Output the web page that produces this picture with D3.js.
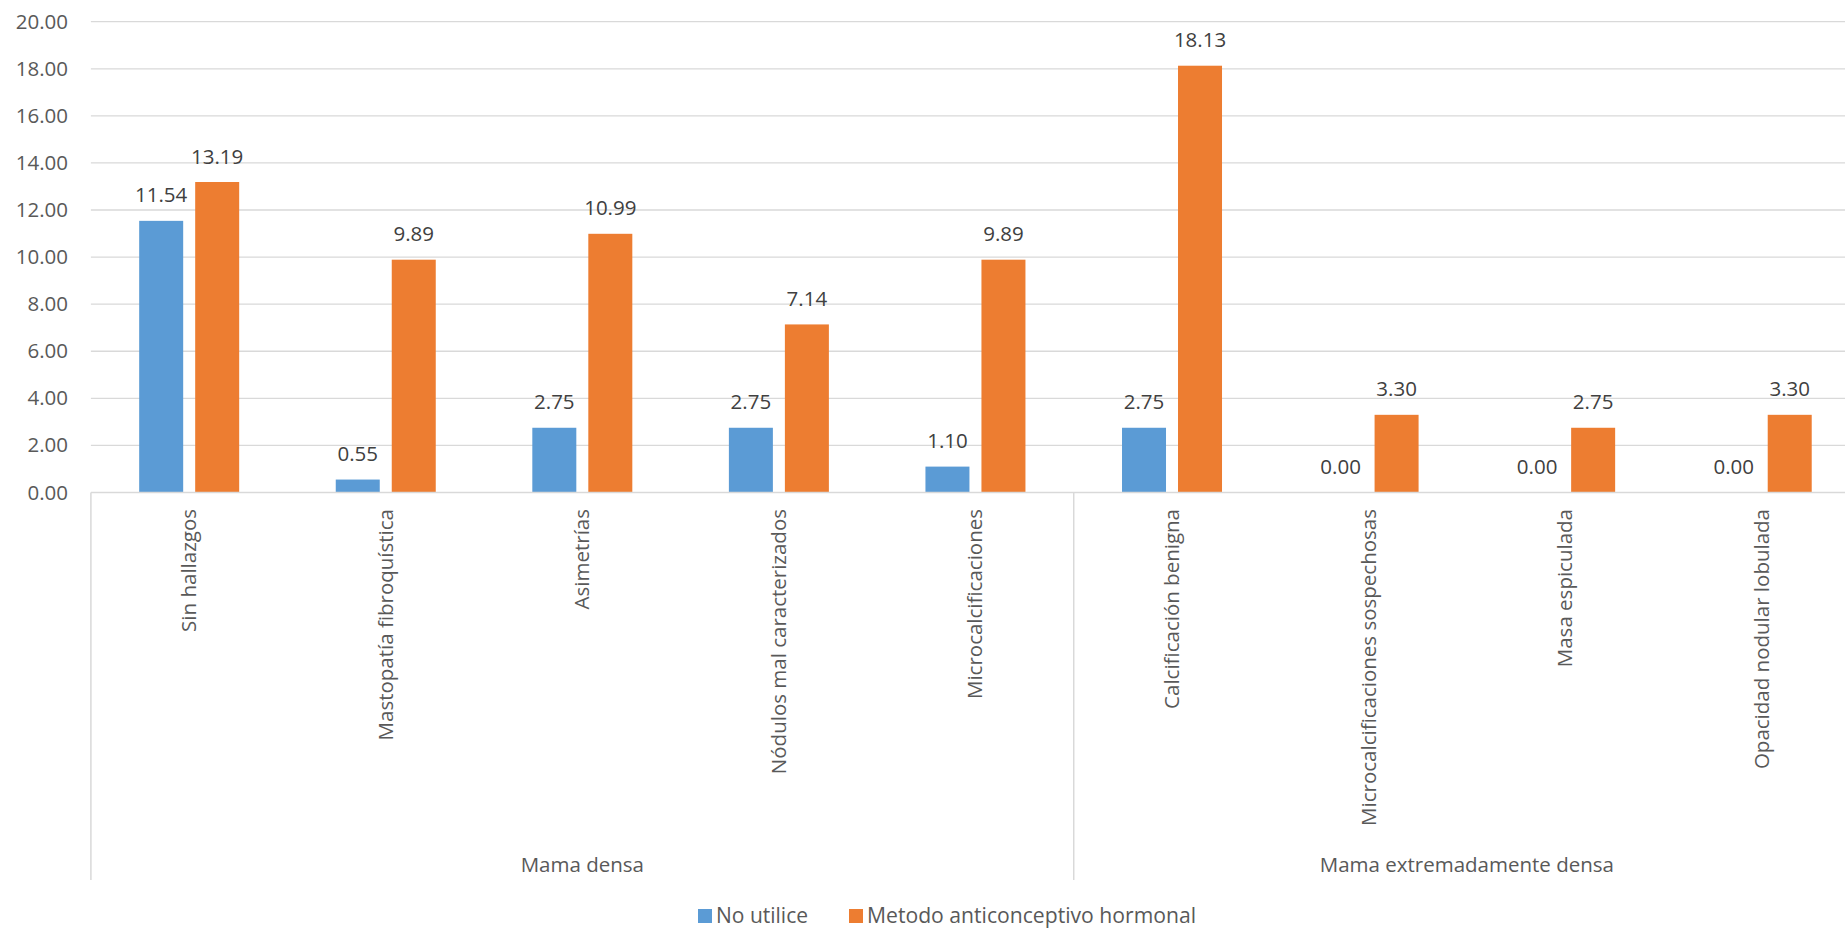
<!DOCTYPE html>
<html>
<head>
<meta charset="utf-8">
<script src="https://cdn.jsdelivr.net/npm/d3@7"></script>
<style>
  html, body { margin: 0; padding: 0; background: #fff; }
  svg { display: block; font-family: "Open Sans", sans-serif; }
</style>
</head>
<body>
<svg id="chart" width="1845" height="950"></svg>
<script>
// Hallazgos mamográficos por densidad y uso de anticonceptivos (%)
const categories = [
  "Sin hallazgos", "Mastopatía fibroquística", "Asimetrías",
  "Nódulos mal caracterizados", "Microcalcificaciones",
  "Calcificación benigna", "Microcalcificaciones sospechosas",
  "Masa espiculada", "Opacidad nodular lobulada"
];
const groups = [
  { name: "Mama densa", from: 0, to: 5 },
  { name: "Mama extremadamente densa", from: 5, to: 9 }
];
const seriesNames = ["No utilice", "Metodo anticonceptivo hormonal"];
const noUtilice = [11.54, 0.55, 2.75, 2.75, 1.10, 2.75, 0.00, 0.00, 0.00];
const hormonal = [13.19, 9.89, 10.99, 7.14, 9.89, 18.13, 3.30, 2.75, 3.30];
const yTicks = [0, 2, 4, 6, 8, 10, 12, 14, 16, 18, 20];
const colors = ["#5B9BD5", "#ED7D31"];

(function () {
  const seriesValues = [noUtilice, hormonal];
  const svg = d3.select("#chart");

  const plotLeft = 90.9, plotRight = 1860, plotTop = 21.7, base = 492.5;
  const x = d3.scaleBand().domain(categories).range([plotLeft, plotRight]).padding(0);
  const cw = x.bandwidth();
  const x1 = d3.scaleBand().domain(seriesNames)
    .range([cw / 2 - 50, cw / 2 + 50]).paddingInner(12 / 56).paddingOuter(0);
  const y = d3.scaleLinear().domain([0, 20]).range([base, plotTop]);

  // gridlines
  svg.append("g").selectAll("line").data(yTicks.filter(t => t > 0)).join("line")
    .attr("x1", plotLeft).attr("x2", plotRight)
    .attr("y1", d => y(d)).attr("y2", d => y(d))
    .attr("stroke", "#d9d9d9").attr("stroke-width", 1.3);

  // y axis labels
  const yAxis = d3.axisLeft(y).tickValues(yTicks).tickFormat(d3.format(".2f")).tickSize(0).tickPadding(0);
  const ya = svg.append("g").attr("transform", "translate(68,0)").call(yAxis);
  ya.select(".domain").remove();
  ya.selectAll("text").attr("font-size", 20.5).attr("fill", "#595959")
    .attr("font-family", "Open Sans, sans-serif");

  // bars and value labels
  const series = seriesNames.map((n, i) => ({ name: n, color: colors[i], values: seriesValues[i] }));
  series.forEach(s => {
    const g = svg.append("g");
    g.selectAll("rect").data(categories).join("rect")
      .attr("x", c => x(c) + x1(s.name))
      .attr("width", x1.bandwidth())
      .attr("y", (c, i) => y(s.values[i]))
      .attr("height", (c, i) => base - y(s.values[i]))
      .attr("fill", s.color);
    g.selectAll("text").data(categories).join("text")
      .attr("x", c => x(c) + x1(s.name) + x1.bandwidth() / 2)
      .attr("y", (c, i) => y(s.values[i]) - 18.5)
      .attr("text-anchor", "middle")
      .attr("font-size", 20.5).attr("fill", "#404040")
      .text((c, i) => s.values[i].toFixed(2));
  });

  // x axis baseline
  svg.append("line").attr("x1", plotLeft).attr("x2", plotRight)
    .attr("y1", base).attr("y2", base)
    .attr("stroke", "#d9d9d9").attr("stroke-width", 1.5);

  // group boundary ticks
  const bounds = [0, 5, 9].map(i => i < categories.length ? x(categories[i]) : plotRight);
  svg.append("g").selectAll("line").data(bounds).join("line")
    .attr("x1", d => d).attr("x2", d => d)
    .attr("y1", base).attr("y2", 880)
    .attr("stroke", "#d9d9d9").attr("stroke-width", 1.5);

  // category labels (rotated)
  svg.append("g").selectAll("text").data(categories).join("text")
    .attr("transform", c => `translate(${x(c) + cw / 2 + 7},509) rotate(-90)`)
    .attr("text-anchor", "end")
    .attr("font-size", 20.5).attr("fill", "#595959")
    .text(c => c);

  // group labels
  svg.append("g").selectAll("text").data(groups).join("text")
    .attr("x", g => {
      const a = x(categories[g.from]);
      const b = g.to < categories.length ? x(categories[g.to]) : plotRight;
      return (a + b) / 2;
    })
    .attr("y", 872)
    .attr("text-anchor", "middle")
    .attr("font-size", 20.5).attr("fill", "#595959")
    .text(g => g.name);

  // legend
  const legendItems = [
    { name: seriesNames[0], color: colors[0], sx: 698, tx: 716, len: 92 },
    { name: seriesNames[1], color: colors[1], sx: 849, tx: 867, len: 329 }
  ];
  const lg = svg.append("g");
  legendItems.forEach(it => {
    lg.append("rect").attr("x", it.sx).attr("y", 909).attr("width", 14).attr("height", 14).attr("fill", it.color);
    lg.append("text").attr("x", it.tx).attr("y", 923)
      .attr("font-size", 21).attr("fill", "#595959")
      .attr("textLength", it.len).attr("lengthAdjust", "spacingAndGlyphs")
      .text(it.name);
  });
})();
</script>
</body>
</html>
